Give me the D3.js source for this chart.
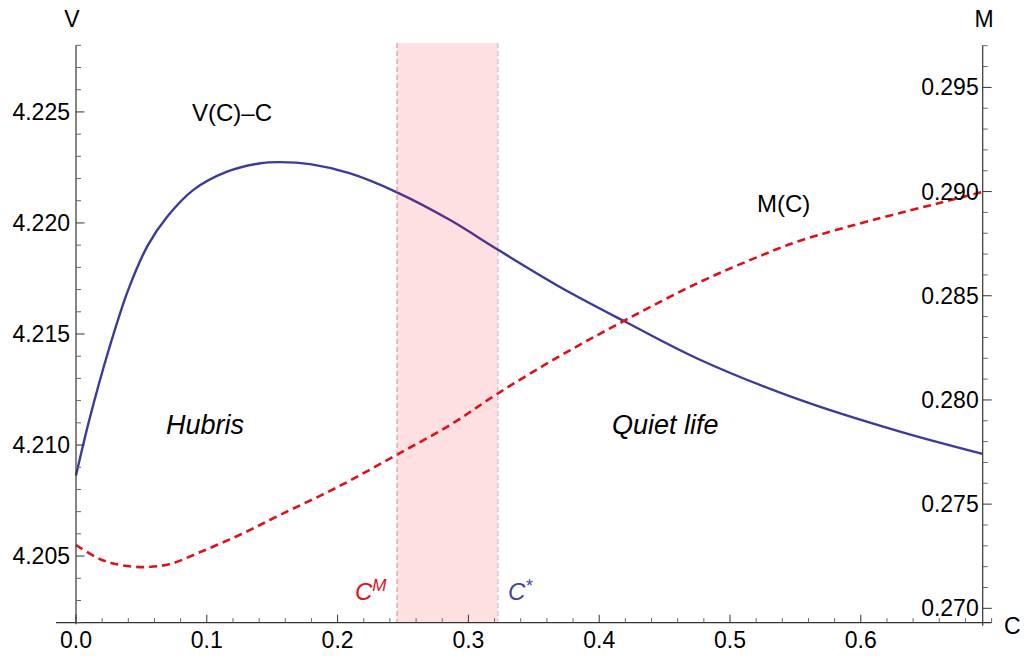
<!DOCTYPE html>
<html>
<head>
<meta charset="utf-8">
<script src="https://cdn.jsdelivr.net/npm/d3@7"></script>
<style>
  html, body { margin: 0; padding: 0; background: #fff; }
  svg { display: block; }
  text { font-family: "Liberation Sans", Arial, sans-serif; }
</style>
</head>
<body>
<svg id="chart" width="1026" height="660"></svg>
<script>
// Value function net of cost, V(C) - C, sampled along C
const cV = [0, 0.0102, 0.0255, 0.04, 0.055, 0.07, 0.09, 0.115, 0.14, 0.156,
            0.179, 0.209, 0.245, 0.286, 0.323, 0.37, 0.42, 0.477, 0.553, 0.63, 0.693];
const vValues = [4.20863, 4.21114, 4.21438, 4.21700, 4.21900, 4.22030, 4.22150, 4.22230,
                 4.22268, 4.22274, 4.22265, 4.22224, 4.22139, 4.22013, 4.21878,
                 4.21712, 4.21555, 4.21384, 4.21204, 4.21060, 4.20960];

// M(C), read on the right-hand axis
const cM = [0, 0.018, 0.034, 0.053, 0.072, 0.095, 0.125, 0.156, 0.2, 0.245, 0.286, 0.323,
            0.37, 0.42, 0.477, 0.523, 0.553, 0.615, 0.66, 0.693];
const mValues = [0.27304, 0.27237, 0.27208, 0.27198, 0.27213, 0.27270, 0.27352, 0.27448,
                 0.27582, 0.27736, 0.27880, 0.28033, 0.28211, 0.28383, 0.28566, 0.28691,
                 0.28763, 0.28873, 0.28945, 0.28998];

// Critical levels bounding the shaded interval
const cStarM = 0.2454;   // C^M
const cStar = 0.3226;    // C*
const cMax = 0.6932;     // position of the M axis

// Tick values
const xMajor = [0, 0.1, 0.2, 0.3, 0.4, 0.5, 0.6];
const xTickLabels = ["0.0", "0.1", "0.2", "0.3", "0.4", "0.5", "0.6"];
const vMajor = [4.205, 4.210, 4.215, 4.220, 4.225];
const vTickLabels = ["4.205", "4.210", "4.215", "4.220", "4.225"];
const mMajor = [0.270, 0.275, 0.280, 0.285, 0.290, 0.295];
const mTickLabels = ["0.270", "0.275", "0.280", "0.285", "0.290", "0.295"];

const svg = d3.select("#chart");

const x = d3.scaleLinear().domain([0, 0.7]).range([76, 991.6]);
const yV = d3.scaleLinear().domain([4.202, 4.228]).range([622.7, 45.3]);
const yM = d3.scaleLinear().domain([0.26931, 0.29702]).range([622.7, 45.3]);

const axisColor = "#333";
const minorColor = "#666";
const tickFont = 23;
const labelFont = 24;
const italicFont = 27;

const xMinor = d3.range(0, 36).map(i => +(i * 0.02).toFixed(2)).filter(v => !xMajor.some(m => Math.abs(m - v) < 1e-9));
const vMinor = d3.range(4202, 4229).map(i => i / 1000).filter(v => !vMajor.some(m => Math.abs(m - v) < 1e-9));
const mMinor = d3.range(270, 298).map(i => i / 1000).filter(v => !mMajor.some(m => Math.abs(m - v) < 1e-9));

// ---- curves ----
const lineV = d3.line().x((d, i) => x(cV[i])).y(d => yV(d)).curve(d3.curveCatmullRom.alpha(0.5));
const lineM = d3.line().x((d, i) => x(cM[i])).y(d => yM(d)).curve(d3.curveCatmullRom.alpha(0.5));

svg.append("path")
  .attr("d", lineV(vValues))
  .attr("fill", "none")
  .attr("stroke", "#3b3b9b")
  .attr("stroke-width", 2.4);

svg.append("path")
  .attr("d", lineM(mValues))
  .attr("fill", "none")
  .attr("stroke", "#e0101a")
  .attr("stroke-width", 2.6)
  .attr("stroke-dasharray", "8,5");

// ---- shaded interval between C^M and C* ----
svg.append("rect")
  .attr("x", x(cStarM))
  .attr("y", 43)
  .attr("width", x(cStar) - x(cStarM))
  .attr("height", yV(4.202) - 43)
  .attr("fill", "rgb(255,0,16)")
  .attr("fill-opacity", 0.12);

svg.append("line")
  .attr("x1", x(cStarM)).attr("x2", x(cStarM))
  .attr("y1", 43).attr("y2", yV(4.202))
  .attr("stroke", "#f07a80").attr("stroke-width", 1)
  .attr("stroke-dasharray", "5,3");

svg.append("line")
  .attr("x1", x(cStar)).attr("x2", x(cStar))
  .attr("y1", 43).attr("y2", yV(4.202))
  .attr("stroke", "#b4b4dc").attr("stroke-width", 1)
  .attr("stroke-dasharray", "5,3");

// ---- axes ----
const axes = svg.append("g");

// horizontal C axis
axes.append("line")
  .attr("x1", 56).attr("x2", x(0.7))
  .attr("y1", yV(4.202)).attr("y2", yV(4.202))
  .attr("stroke", axisColor).attr("stroke-width", 1.2);

xMajor.forEach((v, i) => {
  axes.append("line")
    .attr("x1", x(v)).attr("x2", x(v))
    .attr("y1", yV(4.202)).attr("y2", yV(4.202) - 8)
    .attr("stroke", axisColor).attr("stroke-width", 1);
  axes.append("text")
    .attr("x", x(v)).attr("y", 648)
    .attr("text-anchor", "middle")
    .attr("font-size", tickFont)
    .text(xTickLabels[i]);
});
xMinor.forEach(v => {
  axes.append("line")
    .attr("x1", x(v)).attr("x2", x(v))
    .attr("y1", yV(4.202)).attr("y2", yV(4.202) - 4.5)
    .attr("stroke", minorColor).attr("stroke-width", 1);
});

// left V axis
axes.append("line")
  .attr("x1", x(0)).attr("x2", x(0))
  .attr("y1", yV(4.228)).attr("y2", yV(4.202) + 1.5)
  .attr("stroke", axisColor).attr("stroke-width", 1.2);
vMajor.forEach((v, i) => {
  axes.append("line")
    .attr("x1", x(0)).attr("x2", x(0) + 8.5)
    .attr("y1", yV(v)).attr("y2", yV(v))
    .attr("stroke", axisColor).attr("stroke-width", 1);
  axes.append("text")
    .attr("x", x(0) - 6).attr("y", yV(v))
    .attr("dy", "0.35em")
    .attr("text-anchor", "end")
    .attr("font-size", tickFont)
    .text(vTickLabels[i]);
});
vMinor.forEach(v => {
  axes.append("line")
    .attr("x1", x(0)).attr("x2", x(0) + 5)
    .attr("y1", yV(v)).attr("y2", yV(v))
    .attr("stroke", minorColor).attr("stroke-width", 1);
});

// right M axis
const xr = x(cMax);
axes.append("line")
  .attr("x1", xr).attr("x2", xr)
  .attr("y1", yM(0.29702)).attr("y2", yV(4.202) + 3)
  .attr("stroke", axisColor).attr("stroke-width", 1.2);
mMajor.forEach((v, i) => {
  axes.append("line")
    .attr("x1", xr).attr("x2", xr + 9)
    .attr("y1", yM(v)).attr("y2", yM(v))
    .attr("stroke", axisColor).attr("stroke-width", 1);
  axes.append("text")
    .attr("x", xr - 4).attr("y", yM(v))
    .attr("dy", "0.35em")
    .attr("text-anchor", "end")
    .attr("font-size", tickFont)
    .text(mTickLabels[i]);
});
mMinor.forEach(v => {
  axes.append("line")
    .attr("x1", xr).attr("x2", xr + 5)
    .attr("y1", yM(v)).attr("y2", yM(v))
    .attr("stroke", minorColor).attr("stroke-width", 1);
});

// axis titles
svg.append("text").attr("x", 72).attr("y", 27).attr("text-anchor", "middle")
  .attr("font-size", tickFont).text("V");
svg.append("text").attr("x", 984).attr("y", 27).attr("text-anchor", "middle")
  .attr("font-size", tickFont).text("M");
svg.append("text").attr("x", 1004).attr("y", 634)
  .attr("font-size", tickFont).text("C");

// curve labels
svg.append("text").attr("x", 192).attr("y", 121)
  .attr("font-size", labelFont).text("V(C)\u2013C");
svg.append("text").attr("x", 757).attr("y", 212)
  .attr("font-size", labelFont).text("M(C)");

// region labels
svg.append("text").attr("x", 166).attr("y", 434)
  .attr("font-size", italicFont).attr("font-style", "italic").text("Hubris");
svg.append("text").attr("x", 612).attr("y", 434)
  .attr("font-size", italicFont).attr("font-style", "italic").text("Quiet life");

// critical level labels
const cmLabel = svg.append("text").attr("x", 355).attr("y", 600)
  .attr("font-size", labelFont).attr("font-style", "italic").attr("fill", "#e0101a");
cmLabel.append("tspan").text("C");
cmLabel.append("tspan").attr("dy", -9).attr("font-size", 17).text("M");

const csLabel = svg.append("text").attr("x", 508).attr("y", 600)
  .attr("font-size", labelFont).attr("font-style", "italic").attr("fill", "#4545a8");
csLabel.append("tspan").text("C");
csLabel.append("tspan").attr("dy", -8).attr("font-size", 18).text("*");
</script>
</body>
</html>
